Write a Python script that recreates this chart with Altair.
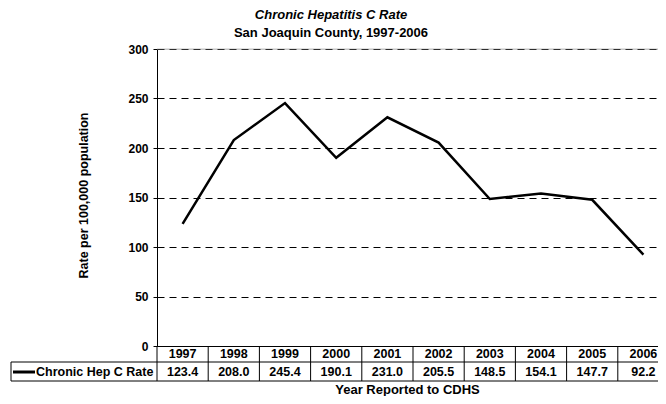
import altair as alt
import pandas as pd

years = [1997, 1998, 1999, 2000, 2001, 2002, 2003, 2004, 2005, 2006]
rates = [123.4, 208.0, 245.4, 190.1, 231.0, 205.5, 148.5, 154.1, 147.7, 92.2]
series_name = "Chronic Hep C Rate"
y_ticks = [0, 50, 100, 150, 200, 250, 300]
title_line1 = "Chronic Hepatitis C Rate"
title_line2 = "San Joaquin County, 1997-2006"
y_title = "Rate per 100,000 population"
x_title = "Year Reported to CDHS"

FONT = "Liberation Sans"
W = 501  # plot width (page is 650px wide inside its margins)
H = 297  # plot height
ROW1 = 16
ROW2 = 19

df = pd.DataFrame({"year": years, "rate": rates, "series": series_name})
df["left"] = df["year"] - 0.5
one = pd.DataFrame({"series": [series_name]})

x_scale = alt.Scale(domain=[1996.5, 1996.5 + W / 51.2], nice=False, zero=False)
y_scale = alt.Scale(domain=[0, 300], nice=False, zero=True)

base = alt.Chart(df)

line = base.mark_line(color="black", strokeWidth=2.5).encode(
    x=alt.X("year:Q", scale=x_scale,
            axis=alt.Axis(title=x_title, labels=False, ticks=False, grid=False,
                          domain=True, domainColor="black", domainWidth=1,
                          titleX=250, titleY=47, titleBaseline="alphabetic", titleAlign="center",
                          titleFont=FONT, titleFontSize=13, titleFontWeight="bold",
                          titleColor="black")),
    y=alt.Y("rate:Q", scale=y_scale,
            axis=alt.Axis(values=y_ticks, title=y_title, grid=True, gridColor="black",
                          gridDash=[7, 5], gridWidth=1, domainColor="black",
                          tickColor="black", tickSize=4, labelPadding=5,
                          labelFont=FONT, labelFontSize=12, labelFontWeight="bold",
                          labelColor="black", titleFont=FONT, titleFontSize=12.5,
                          titleFontWeight="bold", titleColor="black", titleAngle=270,
                          titleX=-74, titleY=146, titleAlign="center",
                          titleBaseline="middle")),
)

top_border = alt.Chart(one).mark_rule(color="#999999", opacity=0.6, strokeWidth=1).encode(
    y=alt.datum(300)
)

col_rules = base.mark_rule(color="black", strokeWidth=1).encode(
    x=alt.X("left:Q", scale=x_scale), y=alt.value(H), y2=alt.value(H + ROW1 + ROW2)
)

row_line1 = alt.Chart(one).mark_rule(color="black", strokeWidth=1).encode(
    x=alt.value(-146), x2=alt.value(W), y=alt.value(H + ROW1)
)
row_line2 = alt.Chart(one).mark_rule(color="black", strokeWidth=1).encode(
    x=alt.value(-146), x2=alt.value(W), y=alt.value(H + ROW1 + ROW2)
)
legend_left = alt.Chart(one).mark_rule(color="black", strokeWidth=1).encode(
    x=alt.value(-146), y=alt.value(H + ROW1), y2=alt.value(H + ROW1 + ROW2)
)

year_text = base.mark_text(font=FONT, fontSize=12.5, fontWeight="bold", color="black",
                           baseline="middle", align="center").encode(
    x=alt.X("year:Q", scale=x_scale), y=alt.value(H + ROW1 / 2),
    text=alt.Text("year:Q", format="d")
)
value_text = base.mark_text(font=FONT, fontSize=12.5, fontWeight="bold", color="black",
                            baseline="middle", align="center").encode(
    x=alt.X("year:Q", scale=x_scale), y=alt.value(H + ROW1 + ROW2 / 2),
    text=alt.Text("rate:Q", format=".1f")
)

legend_line = alt.Chart(one).mark_rule(color="black", strokeWidth=3).encode(
    x=alt.value(-144), x2=alt.value(-122), y=alt.value(H + ROW1 + ROW2 / 2 + 0.5)
)
legend_text = alt.Chart(one).mark_text(font=FONT, fontSize=12.5, fontWeight="bold",
                                       color="black", baseline="middle", align="left").encode(
    x=alt.value(-121), y=alt.value(H + ROW1 + ROW2 / 2), text="series:N"
)

chart = alt.layer(
    top_border, line, col_rules, row_line1, row_line2, legend_left,
    year_text, value_text, legend_line, legend_text
).properties(
    width=W,
    height=H,
    padding={"left": 149, "top": 41, "right": 0, "bottom": 50},
    autosize=alt.AutoSizeParams(type="none"),
    title=alt.TitleParams(
        text=title_line1, subtitle=title_line2, anchor="middle", dx=-76.5, offset=3,
        font=FONT, fontSize=13, fontWeight="bold", fontStyle="italic", color="black",
        subtitleFont=FONT, subtitleFontSize=13, subtitleFontWeight="bold",
        subtitleFontStyle="normal", subtitleColor="black", subtitlePadding=5,
    ),
).configure_view(stroke=None).configure(background="white")

chart.save("out.html", embed_options={"renderer": "svg", "actions": False})
